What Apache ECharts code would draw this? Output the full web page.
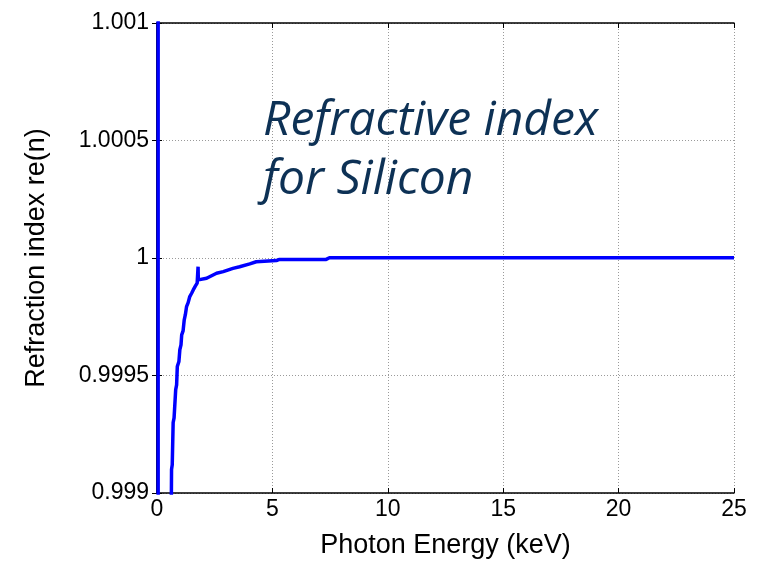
<!DOCTYPE html>
<html>
<head>
<meta charset="utf-8">
<script src="https://cdn.jsdelivr.net/npm/echarts@6/dist/echarts.min.js"></script>
<style>html,body{margin:0;padding:0;background:#fff}#c{width:765px;height:564px}</style>
</head>
<body>
<div id="c"></div>
<script>
// Photon energy (keV)
const energy = [0.05, 0.05, 0.59, 0.63, 0.66, 0.70, 0.74, 0.81, 0.85, 0.88, 0.95, 0.99, 1.04, 1.07, 1.13, 1.18, 1.23, 1.28, 1.35, 1.42, 1.50, 1.57, 1.66, 1.74, 1.78, 1.79, 1.80, 2.15, 2.58, 2.87, 3.29, 3.58, 4.02, 4.30, 5.17, 5.31, 7.33, 7.47, 25];
// Real part of refractive index
const refIndex = [1.002, 0.998, 0.9985, 0.9991, 0.99912, 0.9993, 0.99932, 0.99944, 0.99946, 0.999538, 0.99956, 0.99961, 0.99963, 0.999673, 0.99969, 0.999737, 0.99976, 0.999793, 0.99981, 0.999836, 0.99985, 0.999864, 0.99988, 0.999893, 0.999963, 0.999907, 0.999907, 0.999914, 0.999935, 0.999942, 0.999956, 0.999963, 0.999975, 0.999984, 0.999989, 0.999994, 0.999994, 1.000001, 1.000001];
const xTicks = [0, 5, 10, 15, 20, 25];
const yTicks = [0.999, 0.9995, 1, 1.0005, 1.001];
const annotation = ['Refractive index', 'for Silicon'];

const data = energy.map((e, i) => [e, refIndex[i]]);
const chart = echarts.init(document.getElementById('c'), null, {renderer: 'canvas'});
const font = 'Liberation Sans, Arial, sans-serif';
const gridLine = {show: true, lineStyle: {color: '#9a9a9a', type: [1, 2], width: 1}};
chart.setOption({
  animation: false,
  grid: {left: 157, top: 23, width: 577, height: 471},
  xAxis: [{
    type: 'value', min: 0, max: 25, interval: 5,
    name: 'Photon Energy (keV)', nameLocation: 'middle', nameGap: 39,
    nameTextStyle: {fontFamily: font, fontSize: 27, color: '#000'},
    axisLine: {show: true, onZero: false, lineStyle: {color: '#000', width: 1.5}},
    axisTick: {show: true, inside: true, length: 5, lineStyle: {color: '#000'}},
    axisLabel: {fontFamily: font, fontSize: 23, color: '#000', margin: 5,
      formatter: v => xTicks.includes(v) ? String(v) : ''},
    splitLine: gridLine
  }, {
    type: 'value', min: 0, max: 25, interval: 5, position: 'top',
    axisLine: {show: true, lineStyle: {color: '#000', width: 1.5}},
    axisTick: {show: true, inside: true, length: 5, lineStyle: {color: '#000'}},
    axisLabel: {show: false}, splitLine: {show: false}
  }],
  yAxis: [{
    type: 'value', min: 0.999, max: 1.001, interval: 0.0005,
    name: 'Refraction index re(n)', nameLocation: 'middle', nameGap: 107, nameRotate: 90,
    nameTextStyle: {fontFamily: font, fontSize: 27, color: '#000'},
    axisLine: {show: true, onZero: false, lineStyle: {color: '#000', width: 1.5}},
    axisTick: {show: true, inside: true, length: 5, lineStyle: {color: '#000'}},
    axisLabel: {fontFamily: font, fontSize: 23, color: '#000', margin: 8,
      formatter: v => {
        const t = yTicks.find(y => Math.abs(y - v) < 1e-9);
        return t === undefined ? '' : String(t);
      }},
    splitLine: gridLine
  }, {
    type: 'value', min: 0.999, max: 1.001, interval: 0.0005, position: 'right',
    axisLine: {show: true, lineStyle: {color: '#000', width: 1.5}},
    axisTick: {show: true, inside: true, length: 5, lineStyle: {color: '#000'}},
    axisLabel: {show: false}, splitLine: {show: false}
  }],
  series: [{
    type: 'line', data: data, showSymbol: false, clip: true,
    lineStyle: {color: '#0000ff', width: 3.5}
  }],
  graphic: [{
    type: 'text', left: 263, top: 92, z: 10,
    style: {text: annotation.join('\n'), fontFamily: 'Open Sans, Lato, sans-serif', fontStyle: 'italic',
      fontSize: 48, lineHeight: 59, fill: '#0d3155'}
  }]
});
</script>
</body>
</html>
